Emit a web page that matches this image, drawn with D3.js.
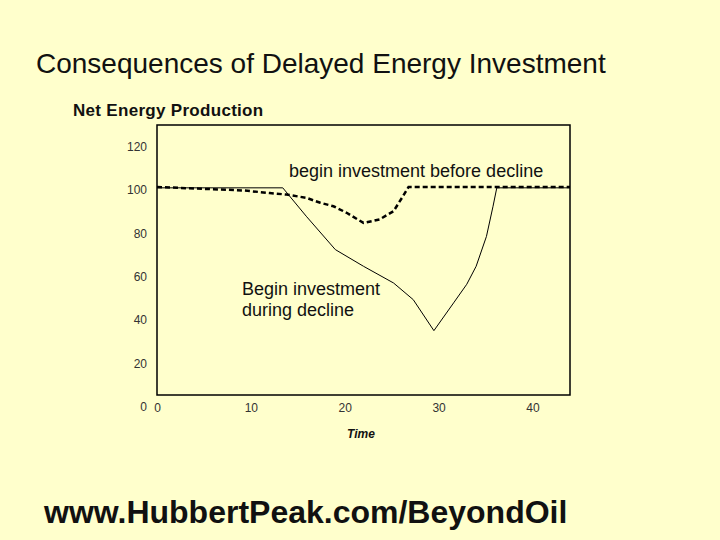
<!DOCTYPE html>
<html>
<head>
<meta charset="utf-8">
<script src="https://cdn.jsdelivr.net/npm/d3@7"></script>
<style>
  body { margin: 0; background: #ffffcc; }
  text { font-family: "Liberation Sans", Arial, sans-serif; }
</style>
</head>
<body>
<script>
const w = 720;
const h = 540;

// series (time, net energy)
const duringTime  = [0, 13.4, 15.9, 19.0, 22.0, 25.2, 27.3, 29.5, 31.6, 33.0, 34.0, 35.1, 35.8, 36.2, 44];
const duringValue = [100, 100, 86.9, 71.5, 63.8, 56.1, 48.4, 34.1, 46.9, 55.5, 63.8, 77.6, 91.5, 100, 100];

const beforeTime  = [0, 9.2, 12.0, 13.8, 15.9, 17.4, 18.8, 20.2, 22.0, 23.7, 25.2, 26.2, 26.8, 44];
const beforeValue = [100.4, 98.8, 97.6, 96.9, 95.4, 93.1, 91.5, 88.5, 83.8, 85.4, 89.2, 96.1, 100.4, 100.4];

const xTicks = [0, 10, 20, 30, 40];
const yTicks = [0, 20, 40, 60, 80, 100, 120];

let svg = d3.select("body").append("svg")
    .attr("width", w)
    .attr("height", h)
    .style("background-color", "#ffffcc");

// plot box
const plotLeft = 157, plotRight = 570, plotTop = 125, plotBottom = 395;

var x = d3.scaleLinear()
    .domain([0, 44])
    .range([plotLeft, plotRight]);

var y = d3.scaleLinear()
    .domain([4.4, 129])
    .range([plotBottom, plotTop]);

svg.append("rect")
    .attr("x", plotLeft)
    .attr("y", plotTop)
    .attr("width", plotRight - plotLeft)
    .attr("height", plotBottom - plotTop)
    .attr("fill", "none")
    .attr("stroke", "#000")
    .attr("stroke-width", 1.5);

// axes without lines or ticks, just labels
var xAxis = svg.append("g")
    .attr("transform", "translate(0," + (plotBottom + 5) + ")")
    .call(d3.axisBottom(x).tickValues(xTicks).tickSize(0).tickFormat(d3.format("d")));
xAxis.select(".domain").remove();
xAxis.selectAll("text")
    .attr("font-size", 12)
    .attr("fill", "#333")
    .style("font-family", "'Liberation Sans', Arial, sans-serif");

var yAxis = svg.append("g")
    .attr("transform", "translate(" + (plotLeft - 7) + ",2)")
    .call(d3.axisLeft(y).tickValues(yTicks).tickSize(0).tickPadding(3));
yAxis.select(".domain").remove();
yAxis.selectAll("text")
    .attr("font-size", 12)
    .attr("fill", "#333")
    .style("font-family", "'Liberation Sans', Arial, sans-serif");

var line = d3.line()
    .x(function (d) { return x(d[0]); })
    .y(function (d) { return y(d[1]); });

svg.append("path")
    .datum(d3.zip(duringTime, duringValue))
    .attr("fill", "none")
    .attr("stroke", "#000")
    .attr("stroke-width", 1)
    .attr("d", line);

svg.append("path")
    .datum(d3.zip(beforeTime, beforeValue))
    .attr("fill", "none")
    .attr("stroke", "#000")
    .attr("stroke-width", 2.5)
    .attr("stroke-dasharray", "5,3")
    .attr("d", line);

// texts
svg.append("text")
    .attr("x", 36).attr("y", 73)
    .attr("font-size", 28)
    .attr("fill", "#111")
    .text("Consequences of Delayed Energy Investment");

svg.append("text")
    .attr("x", 73).attr("y", 116)
    .attr("font-size", 17)
    .attr("font-weight", "bold")
    .attr("letter-spacing", 0.3)
    .attr("fill", "#111")
    .text("Net Energy Production");

svg.append("text")
    .attr("x", 289).attr("y", 177)
    .attr("font-size", 18)
    .attr("fill", "#111")
    .text("begin investment before decline");

svg.append("text")
    .attr("x", 242).attr("y", 295)
    .attr("font-size", 18)
    .attr("fill", "#111")
    .text("Begin investment");

svg.append("text")
    .attr("x", 242).attr("y", 316)
    .attr("font-size", 18)
    .attr("fill", "#111")
    .text("during decline");

svg.append("text")
    .attr("x", 361).attr("y", 438)
    .attr("text-anchor", "middle")
    .attr("font-size", 12)
    .attr("font-weight", "bold")
    .attr("font-style", "italic")
    .attr("fill", "#111")
    .text("Time");

svg.append("text")
    .attr("x", 44).attr("y", 523)
    .attr("font-size", 32)
    .attr("font-weight", "bold")
    .attr("fill", "#111")
    .text("www.HubbertPeak.com/BeyondOil");
</script>
</body>
</html>
